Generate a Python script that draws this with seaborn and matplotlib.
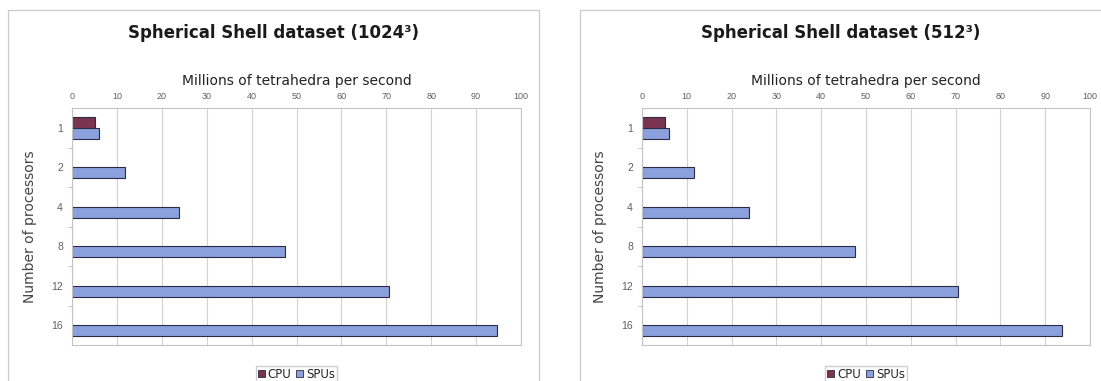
import matplotlib
matplotlib.use("Agg")
import matplotlib.pyplot as plt
from matplotlib.patches import Rectangle, Patch
from matplotlib.ticker import FixedLocator
import pandas as pd
import seaborn as sns

# Throughput (millions of tetrahedra per second) by processor count
processors = ["1", "2", "4", "8", "12", "16"]
series_names = ["CPU", "SPUs"]

cpu_procs = ["1"]
cpu_1024 = [5.2]
spu_1024 = [6.0, 11.8, 23.8, 47.4, 70.7, 94.7]

cpu_512 = [5.2]
spu_512 = [6.1, 11.7, 23.8, 47.6, 70.5, 93.8]

titles = ["Spherical Shell dataset (1024³)", "Spherical Shell dataset (512³)"]
x_ticks = list(range(0, 101, 10))

colors = {"CPU": "#7b3450", "SPUs": "#8ba1de"}


def long_frame(cpu_vals, spu_vals):
    rows = [(p, "CPU", v) for p, v in zip(cpu_procs, cpu_vals)]
    rows += [(p, "SPUs", v) for p, v in zip(processors, spu_vals)]
    return pd.DataFrame(rows, columns=["procs", "series", "rate"])


sns.set_theme(style="white")
plt.rcParams["font.family"] = ["DejaVu Sans"]

fig = plt.figure(figsize=(11.01, 3.81), dpi=100)
W, H = 1101, 381

# Chart frames
for x0, x1 in [(8, 539), (580, 1111)]:
    fig.patches.append(Rectangle((x0 / W, -0.05), (x1 - x0) / W, 1 - 10 / H + 0.05,
                                 transform=fig.transFigure, fill=False,
                                 edgecolor="#c9c9c9", linewidth=0.9, zorder=0))

panels = [
    (long_frame(cpu_1024, spu_1024), titles[0], 72, 521, 273.5),
    (long_frame(cpu_512, spu_512), titles[1], 642, 1090, 841),
]

top, bottom = 108, 345
for df, title, left, right, tx in panels:
    ax = fig.add_axes([left / W, 1 - bottom / H, (right - left) / W, (bottom - top) / H])
    sns.barplot(data=df, x="rate", y="procs", hue="series", order=processors,
                hue_order=series_names, palette=colors, orient="h", width=0.56,
                saturation=1, edgecolor="#2b2b45", linewidth=0.8,
                errorbar=None, legend=False, ax=ax)

    ax.set_xlim(0, 100)
    ax.set_xticks(x_ticks)
    ax.xaxis.tick_top()
    ax.xaxis.set_label_position("top")
    ax.set_xlabel("Millions of tetrahedra per second", fontsize=10,
                  color="#222222", labelpad=5)
    ax.set_ylabel("Number of processors", fontsize=10, color="#444444")
    ax.yaxis.set_label_coords(-0.078, 0.5)

    ax.tick_params(axis="x", length=0, pad=5, labelsize=6.5, labelcolor="#606060")
    ax.tick_params(axis="y", which="major", length=0, pad=6.5, labelsize=7.5,
                   labelcolor="#606060")
    for lab in ax.get_xticklabels() + ax.get_yticklabels():
        lab.set_fontfamily("Liberation Sans")

    ax.yaxis.set_minor_locator(FixedLocator([i + 0.5 for i in range(len(processors) - 1)]))
    ax.tick_params(axis="y", which="minor", length=3, width=0.7, color="#c0c0c0",
                   direction="out", left=True)

    ax.set_axisbelow(True)
    ax.xaxis.grid(True, color="#d2d2d2", linewidth=0.8)
    ax.yaxis.grid(False)
    for sp in ax.spines.values():
        sp.set_color("#c4c4c4")
        sp.set_linewidth(0.8)

    handles = [Patch(facecolor=colors[s], edgecolor="#2b2b45", linewidth=0.6)
               for s in series_names]
    ax.legend(handles, series_names, loc="upper center", ncol=2,
              bbox_to_anchor=(0.5, -0.088), fontsize=8.5, frameon=True,
              fancybox=False, edgecolor="#c4c4c4", handlelength=0.6,
              handleheight=0.6, handletextpad=0.25, columnspacing=0.4,
              borderpad=0.15, borderaxespad=0)

    fig.text(tx / W, 1 - 33 / H, title, ha="center", va="center",
             fontsize=12, fontweight="bold", color="#1a1a1a")

fig.savefig("out.png", dpi=100)
